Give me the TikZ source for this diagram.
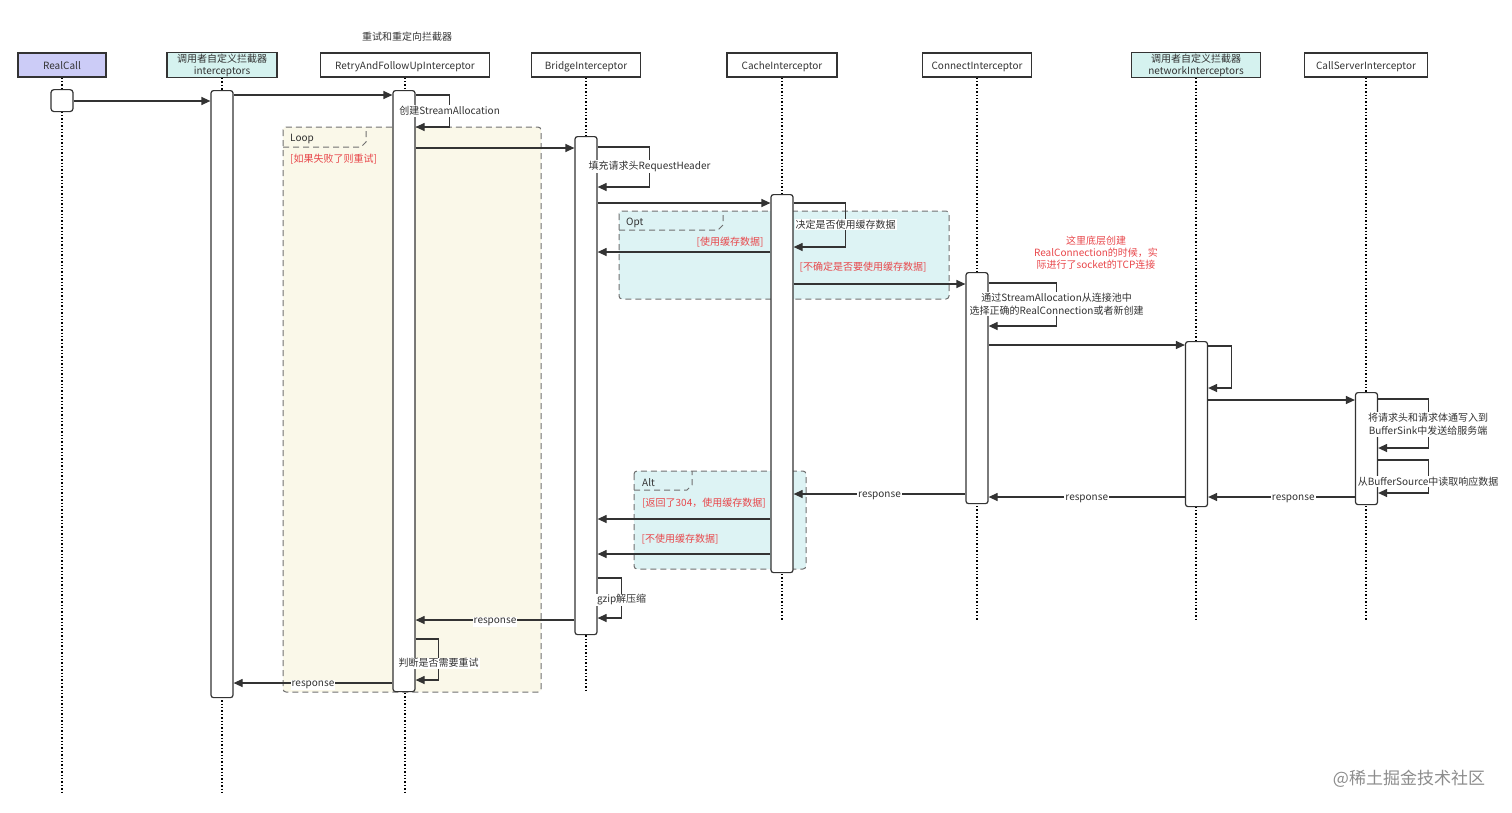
\documentclass[tikz,border=0pt]{standalone}
\usepackage{fontspec}
\setmainfont{Noto Sans CJK SC}
\usetikzlibrary{arrows.meta}
\definecolor{lineC}{HTML}{333333}
\definecolor{callC}{HTML}{CCCCF7}
\definecolor{userC}{HTML}{D5F2EF}
\definecolor{loopC}{HTML}{FAF8E9}
\definecolor{optC}{HTML}{DDF3F4}
\definecolor{noteC}{HTML}{E8474B}
\definecolor{frameC}{HTML}{707070}
\tikzset{
	head/.style={draw=lineC, line width=1.2pt, minimum height=24pt, inner sep=1pt, text=lineC, align=center, font=\fontsize{10}{12}\selectfont},
	onehead/.style={head, text height=9pt, text depth=0.5pt},
	bar/.style={draw=lineC, fill=white, line width=1.2pt, rounded corners=2.5pt, minimum width=22pt, anchor=north, inner sep=0pt},
	life/.style={draw=black, line width=1.4pt, dotted},
	msg/.style={draw=lineC, line width=1.2pt, -{Triangle[length=9pt,width=8pt]}},
	lbl/.style={fill=white, inner sep=1pt, yshift=-2pt, text=lineC, align=center, font=\fontsize{10}{13}\selectfont},
	cond/.style={text=noteC, inner sep=0pt, yshift=-1.5pt, align=center, font=\fontsize{10}{12}\selectfont},
	tag/.style={anchor=west, text=lineC, inner sep=0pt, yshift=-1.5pt, font=\fontsize{10}{12}\selectfont},
	frag/.style={draw=frameC, line width=1pt, dash pattern=on 6pt off 4pt, rounded corners=3pt},
}

\begin{document}
\begin{tikzpicture}[x=1pt, y=-1pt]
		%%%%% START %%%%%
		\useasboundingbox (0,0) rectangle (1512,812);
		
		\node[text=lineC, yshift=-1.5pt, font=\fontsize{10}{12}\selectfont] (title) at (407,35) {重试和重定向拦截器};
		
		% lifeline heads
		\node[onehead, fill=callC, minimum width=88pt] (rc) at (62,65) {RealCall};
		\node[head, fill=userC, minimum width=110pt] (ic) at (222,65) {调用者自定义拦截器\\interceptors};
		\node[onehead, minimum width=169pt] (rt) at (405,65) {RetryAndFollowUpInterceptor};
		\node[onehead, minimum width=109pt] (br) at (586,65) {BridgeInterceptor};
		\node[onehead, minimum width=110pt] (ca) at (782,65) {CacheInterceptor};
		\node[onehead, minimum width=109pt] (co) at (977,65) {ConnectInterceptor};
		\node[head, fill=userC, minimum width=129pt] (ni) at (1196,65) {调用者自定义拦截器\\networkInterceptors};
		\node[onehead, minimum width=123pt] (cs) at (1366,65) {CallServerInterceptor};
		
		% fragments
		\draw[frag, fill=loopC] (283,127) rectangle (541,692);
		\draw[frag, rounded corners=0pt] (283,147) -- (361,147) -- (366,142) -- (366,127);
		\node[tag] (looptag) at (290,137) {Loop};
		\node[cond, anchor=west] (loopcond) at (290,158) {[如果失败了则重试]};
		
		\draw[frag, fill=optC] (619,211) rectangle (949,299);
		\draw[frag, rounded corners=0pt] (619,230) -- (718,230) -- (723,225) -- (723,211);
		\node[tag] (opttag) at (626,221) {Opt};
		
		\draw[frag, fill=optC] (634,471) rectangle (806,569);
		\draw[frag, rounded corners=0pt] (634,490) -- (687,490) -- (692,485) -- (692,471);
		\node[tag] (alttag) at (642,481) {Alt};
		
		% lifelines
		\draw[life] (rc.south) -- (rc.south |- 0,792);
		\draw[life] (ic.south) -- (ic.south |- 0,792);
		\draw[life] (rt.south) -- (rt.south |- 0,792);
		\draw[life] (br.south) -- (br.south |- 0,690);
		\draw[life] (ca.south) -- (ca.south |- 0,620);
		\draw[life] (co.south) -- (co.south |- 0,620);
		\draw[life] (ni.south) -- (ni.south |- 0,620);
		\draw[life] (cs.south) -- (cs.south |- 0,620);
		
		% activations
		\node[bar, minimum height=22pt, rounded corners=3pt] (rcb) at (62,89) {};
		\node[bar, minimum height=607pt] (icb) at (222,90) {};
		\node[bar, minimum height=601pt] (rtb) at (404,90) {};
		\node[bar, minimum height=498pt] (brb) at (586,136) {};
		\node[bar, minimum height=378pt] (cab) at (782,194) {};
		\node[bar, minimum height=231pt] (cob) at (977,272) {};
		\node[bar, minimum height=165pt] (nib) at (1196.5,341) {};
		\node[bar, minimum height=112pt] (csb) at (1366.5,392) {};
		
		% requests
		\draw[msg] (rcb.east |- 0,101) -- (icb.west |- 0,101);
		\draw[msg] (icb.east |- 0,95) -- (rtb.west |- 0,95);
		\draw[msg] (rtb.east |- 0,95) -- ++(34,0) |- node[lbl, pos=0.22] {创建StreamAllocation} (rtb.east |- 0,127);
		\draw[msg] (rtb.east |- 0,148) -- (brb.west |- 0,148);
		\draw[msg] (brb.east |- 0,147) -- ++(52,0) |- node[lbl, pos=0.22] {填充请求头RequestHeader} (brb.east |- 0,187);
		\draw[msg] (brb.east |- 0,203) -- (cab.west |- 0,203);
		\draw[msg] (cab.east |- 0,203) -- ++(52,0) |- node[lbl, pos=0.22] {决定是否使用缓存数据} (cab.east |- 0,247);
		\draw[msg] (cab.west |- 0,252) -- (brb.east |- 0,252);
		\node[cond] (usecache) at (730,241) {[使用缓存数据]};
		\draw[msg] (cab.east |- 0,284) -- (cob.west |- 0,284);
		\node[cond] (unsure) at (863,266) {[不确定是否要使用缓存数据]};
		\draw[msg] (cob.east |- 0,283) -- ++(68,0) |- node[lbl, pos=0.22] {通过StreamAllocation从连接池中\\选择正确的RealConnection或者新创建} (cob.east |- 0,326);
		\node[cond] (tcpnote) at (1096,251) {这里底层创建\\RealConnection的时候，实\\际进行了socket的TCP连接};
		\draw[msg] (cob.east |- 0,345) -- (nib.west |- 0,345);
		\draw[msg] (nib.east |- 0,346) -- ++(23,0) |- (nib.east |- 0,388);
		\draw[msg] (nib.east |- 0,400) -- (csb.west |- 0,400);
		\draw[msg] (csb.east |- 0,399) -- ++(50,0) |- node[lbl, pos=0.24] {将请求头和请求体通写入到\\BufferSink中发送给服务端} (csb.east |- 0,448);
		\draw[msg] (csb.east |- 0,460) -- ++(50,0) |- node[lbl, pos=0.3] {从BufferSource中读取响应数据} (csb.east |- 0,493);
		
		% responses
		\draw[msg] (csb.west |- 0,497) -- node[lbl, pos=0.42] {response} (nib.east |- 0,497);
		\draw[msg] (nib.west |- 0,497) -- node[lbl] {response} (cob.east |- 0,497);
		\draw[msg] (cob.west |- 0,494) -- node[lbl] {response} (cab.east |- 0,494);
		\draw[msg] (cab.west |- 0,519) -- (brb.east |- 0,519);
		\node[cond] (is304) at (704,502) {[返回了304，使用缓存数据]};
		\draw[msg] (cab.west |- 0,554) -- (brb.east |- 0,554);
		\node[cond] (nocache) at (680,538) {[不使用缓存数据]};
		\draw[msg] (brb.east |- 0,578) -- ++(24,0) |- node[lbl, pos=0.25] {gzip解压缩} (brb.east |- 0,618);
		\draw[msg] (brb.west |- 0,620) -- node[lbl] {response} (rtb.east |- 0,620);
		\draw[msg] (rtb.east |- 0,639) -- ++(23,0) |- node[lbl, pos=0.27] {判断是否需要重试} (rtb.east |- 0,680);
		\draw[msg] (rtb.west |- 0,683) -- node[lbl] {response} (icb.east |- 0,683);
		
		\node[text=black!45, font=\fontsize{17}{20}\selectfont] (mark) at (1409,779) {@稀土掘金技术社区};
		%%%%% END %%%%%
\end{tikzpicture}
\end{document}
